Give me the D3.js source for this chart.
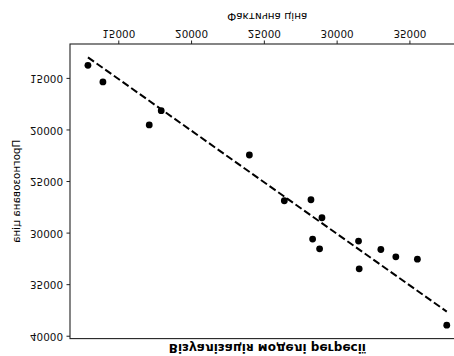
<!DOCTYPE html>
<html>
<head>
<meta charset="utf-8">
<script src="https://cdn.jsdelivr.net/npm/d3@7"></script>
<style>
  html, body { margin: 0; padding: 0; background: #fff; }
  svg { display: block; font-family: "DejaVu Sans", sans-serif; }
</style>
</head>
<body>
<div id="chart"></div>
<script>
const actual = [12915, 13944, 17126, 17949, 24005, 26406, 28237, 28992, 28350, 28830,
  31505, 31550, 33038, 34067, 35549, 37566];
const predicted = [13680, 15291, 19466, 18078, 22379, 26816, 26718, 28466, 30534, 31476,
  30728, 33417, 31544, 32252, 32476, 38883];
const xTicks = [15000, 20000, 25000, 30000, 35000];
const yTicks = [15000, 20000, 25000, 30000, 35000, 40000];

const W = 454, H = 356;
// plot box in unflipped coordinates (right side runs past the window)
const margin = { top: 17.4, right: -10.7, bottom: 44, left: 70 };
const width = W - margin.left - margin.right,
  height = H - margin.top - margin.bottom;

const svg = d3.select("#chart").append("svg")
  .attr("width", W).attr("height", H);

// the whole picture is mirrored top-to-bottom
const root = svg.append("g")
  .attr("transform", `translate(0,${H}) scale(1,-1)`);

const g = root.append("g")
  .attr("transform", `translate(${margin.left},${margin.top})`);

// 5% padding like matplotlib's default margins
const [xmin, xmax] = d3.extent(actual);
const ymin = Math.min(d3.min(predicted), xmin), ymax = Math.max(d3.max(predicted), xmax);
const xpad = (xmax - xmin) * 0.05, ypad = (ymax - ymin) * 0.05;

const x = d3.scaleLinear().domain([xmin - xpad, xmax + xpad]).range([0, width]);
const y = d3.scaleLinear().domain([ymin - ypad, ymax + ypad]).range([height, 0]);

// X axis
const xAxis = g.append("g")
  .attr("transform", `translate(0,${height})`)
  .call(d3.axisBottom(x).tickValues(xTicks).tickFormat(d3.format("d")).tickSize(3.5).tickPadding(3.5));
xAxis.selectAll("text").style("font-size", "10.4px").attr("fill", "#111");

// Y axis
const yAxis = g.append("g")
  .call(d3.axisLeft(y).tickValues(yTicks).tickFormat(d3.format("d")).tickSize(3.5).tickPadding(3.5));
yAxis.selectAll("text").style("font-size", "10.4px").attr("fill", "#111");

[xAxis, yAxis].forEach(a => {
  a.select(".domain").remove();
  a.selectAll("line").attr("stroke", "#222").attr("stroke-width", 1);
  a.style("font-family", "DejaVu Sans, sans-serif");
});

// frame
g.append("rect")
  .attr("width", width).attr("height", height)
  .attr("fill", "none").attr("stroke", "#222").attr("stroke-width", 1.1);

// points
g.selectAll("circle")
  .data(actual.map((d, i) => [d, predicted[i]]))
  .enter()
  .append("circle")
  .attr("cx", d => x(d[0]))
  .attr("cy", d => y(d[1]))
  .attr("r", 3.4)
  .attr("fill", "#000");

// ideal line y = x
g.append("line")
  .attr("x1", x(xmin)).attr("y1", y(xmin))
  .attr("x2", x(xmax)).attr("y2", y(xmax))
  .attr("stroke", "#000")
  .attr("stroke-width", 2)
  .attr("stroke-dasharray", "7.4,3.2");

// labels
root.append("text")
  .attr("x", margin.left + width / 2).attr("y", 12)
  .attr("text-anchor", "middle")
  .style("font-size", "12px")
  .style("font-weight", "bold")
  .text("Візуалізація моделі регресії");

root.append("text")
  .attr("x", margin.left + width / 2).attr("y", 343)
  .attr("text-anchor", "middle")
  .style("font-size", "10.4px")
  .text("Фактична ціна");

root.append("text")
  .attr("transform", `translate(20,${margin.top + height / 2}) rotate(-90)`)
  .attr("text-anchor", "middle")
  .style("font-size", "10.4px")
  .text("Прогнозована ціна");
</script>
</body>
</html>
